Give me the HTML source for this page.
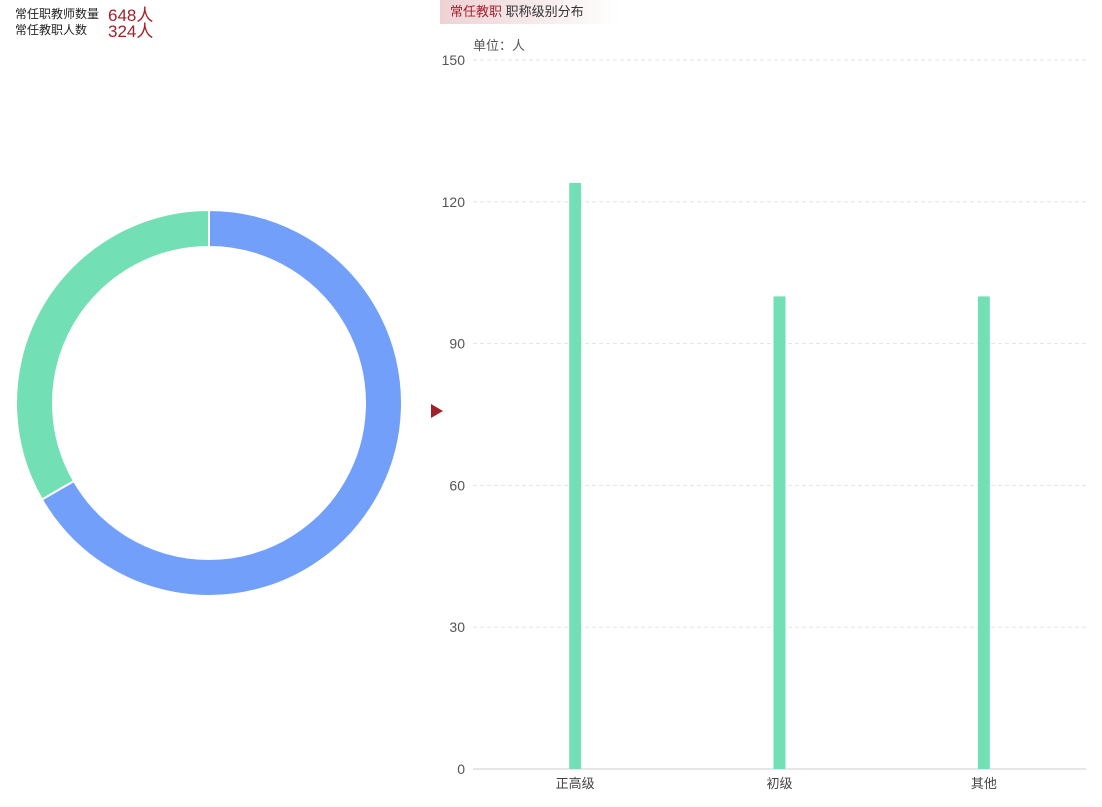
<!DOCTYPE html>
<html><head><meta charset="utf-8"><style>
body{margin:0;width:1102px;height:807px;background:#fff;overflow:hidden;font-family:"Liberation Sans","Noto Sans CJK SC",sans-serif;position:relative}
.t{position:absolute;white-space:nowrap}
</style></head><body>
<div class="t" style="left:15px;top:5px;font-size:12px;color:#222">常任职教师数量</div>
<div class="t" style="left:108px;top:1px;font-size:17px;color:#a3202a">648人</div>
<div class="t" style="left:15px;top:21px;font-size:12px;color:#222">常任教职人数</div>
<div class="t" style="left:108px;top:17px;font-size:17px;color:#a3202a">324人</div>
<div class="t" style="left:440px;top:0;width:170px;height:24px;background:linear-gradient(90deg,#edd2d4,#fff);font-size:13px;line-height:23px;padding-left:10px;color:#333"><span style="color:#a3202a">常任教职</span> 职称级别分布</div>
<div class="t" style="left:473px;top:35px;font-size:13px;color:#555">单位：人</div>
<svg width="1102" height="807" style="position:absolute;left:0;top:0" id="svg">
<polygon points="431,404 431,418 443,411" fill="#a3202a"/>
</svg>
<script>
const pieLabels=["高级","其他"];
const pieValues=[216,108];
const pieColors=["#729ffa","#73dfb5"];
const categories=["正高级","初级","其他"];
const barValues=[124,100,100];
const yTicks=[0,30,60,90,120,150];
const NS="http://www.w3.org/2000/svg";
const svg=document.getElementById('svg');
function mk(t,a){const e=document.createElementNS(NS,t);for(const k in a)e.setAttribute(k,a[k]);svg.appendChild(e);return e;}
// donut
const cx=209,cy=403,R=193,r=156;
const tot=pieValues.reduce((a,b)=>a+b,0);
let ang=0;
pieValues.forEach((v,i)=>{
 const a0=ang,a1=ang+v/tot*2*Math.PI;ang=a1;
 const p=(rad,a)=>[cx+rad*Math.sin(a),cy-rad*Math.cos(a)];
 const [x0,y0]=p(R,a0),[x1,y1]=p(R,a1),[x2,y2]=p(r,a1),[x3,y3]=p(r,a0);
 const lg=(a1-a0)>Math.PI?1:0;
 const e=mk('path',{d:`M${x0},${y0}A${R},${R} 0 ${lg} 1 ${x1},${y1}L${x2},${y2}A${r},${r} 0 ${lg} 0 ${x3},${y3}Z`,fill:pieColors[i],stroke:'#fff','stroke-width':2});
 
 
});
// bars
const x0=473,x1=1086,yB=769,yT=60,maxV=150;
const ys=v=>yB-(v/maxV)*(yB-yT);
const band=(x1-x0)/categories.length;
yTicks.forEach(t=>{
 const y=ys(t);
 if(t>0){const l=mk('line',{x1:x0,x2:x1,y1:y,y2:y,stroke:'#e3e3e3','stroke-dasharray':'4,3'});
 
 }
 const tx=mk('text',{x:465,y:y+5,'text-anchor':'end','font-size':14,fill:'#555'});tx.textContent=t;
 
 
});
const ax=mk('line',{x1:x0,x2:x1,y1:yB,y2:yB,stroke:'#ccc'});


categories.forEach((c,i)=>{
 const cxb=x0+band*(i+0.5);
 const b=mk('rect',{x:cxb-6,y:ys(barValues[i]),width:12,height:yB-ys(barValues[i]),fill:'#73dfb5',rx:1});
 
 
 const t=mk('text',{x:cxb,y:788,'text-anchor':'middle','font-size':13,fill:'#444'});t.textContent=c;
 
 
});
</script>
</body></html>
